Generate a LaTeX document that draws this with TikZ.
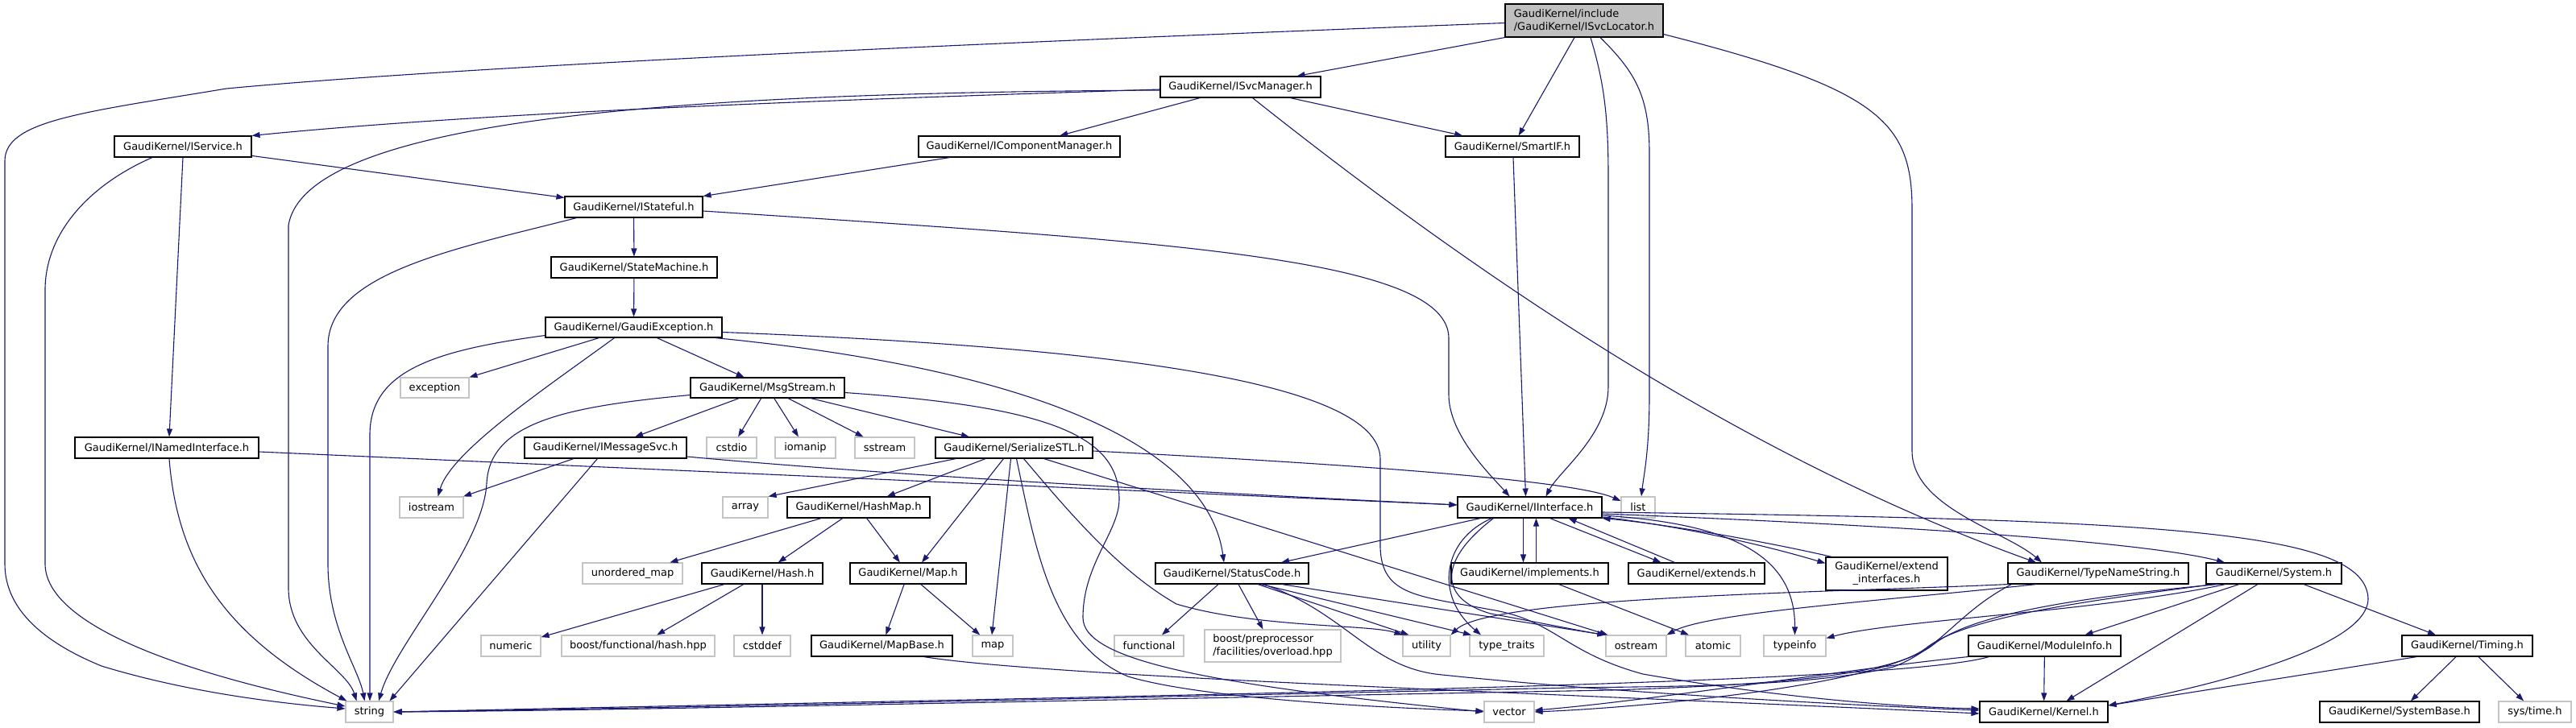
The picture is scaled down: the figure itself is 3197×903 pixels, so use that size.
\documentclass[tikz,border=0pt]{standalone}
\usepackage{fontspec}
\newfontfamily\nf{DejaVu Sans}
\usetikzlibrary{arrows.meta}
\definecolor{edgec}{HTML}{191970}
\definecolor{sysb}{HTML}{C4C4C4}
\definecolor{mainf}{HTML}{BFBFBF}
\begin{document}
\begin{tikzpicture}[x=1pt,y=-1pt,
 box/.style={draw=black,line width=1.1pt,fill=white,minimum height=26pt,inner sep=0pt,font=\nf\fontsize{13}{16}\selectfont},
 sys/.style={box,draw=sysb},
 e/.style={draw=edgec,line width=1.1pt,-{Triangle[length=10pt,width=7pt]}}]
\useasboundingbox (0,0) rectangle (3197,903);
% nodes
\node[box,fill=mainf,minimum width=196pt,minimum height=41pt,align=left] (SL) at (1966,25.5) {GaudiKernel/include\\/GaudiKernel/ISvcLocator.h};
\node[box,minimum width=199pt] (SM) at (1539.5,108) {GaudiKernel/ISvcManager.h};
\node[box,minimum width=170pt] (ISvc) at (227,182) {GaudiKernel/IService.h};
\node[box,minimum width=250pt] (ICM) at (1265,182) {GaudiKernel/IComponentManager.h};
\node[box,minimum width=166pt] (SIF) at (1877,182) {GaudiKernel/SmartIF.h};
\node[box,minimum width=171pt] (IST) at (786.5,257) {GaudiKernel/IStateful.h};
\node[box,minimum width=206pt] (STM) at (787,332) {GaudiKernel/StateMachine.h};
\node[box,minimum width=219pt,minimum height=25pt] (GE) at (786.5,406.5) {GaudiKernel/GaudiException.h};
\node[sys,minimum width=85pt,minimum height=25pt] (exc) at (539.5,481.5) {exception};
\node[box,minimum width=191pt,minimum height=25pt] (MS) at (952.5,481.5) {GaudiKernel/MsgStream.h};
\node[box,minimum width=228pt] (INI) at (207,556) {GaudiKernel/INamedInterface.h};
\node[box,minimum width=201pt] (IMS) at (751.5,556) {GaudiKernel/IMessageSvc.h};
\node[sys,minimum width=62pt] (cstdio) at (908,556) {cstdio};
\node[sys,minimum width=75pt] (iomanip) at (999.5,556) {iomanip};
\node[sys,minimum width=74pt] (sstream) at (1098,556) {sstream};
\node[box,minimum width=195pt] (SS) at (1258.5,556) {GaudiKernel/SerializeSTL.h};
\node[sys,minimum width=79pt] (iostream) at (535.5,630) {iostream};
\node[sys,minimum width=56pt] (array) at (925,630) {array};
\node[box,minimum width=177pt] (HM) at (1065.5,630) {GaudiKernel/HashMap.h};
\node[box,minimum width=179pt] (IF) at (1898.5,630) {GaudiKernel/IInterface.h};
\node[sys,minimum width=42pt] (list) at (2033,630) {list};
\node[sys,minimum width=124pt] (umap) at (785,712) {unordered\_map};
\node[box,minimum width=150pt] (Hash) at (946,712) {GaudiKernel/Hash.h};
\node[box,minimum width=144pt] (Map) at (1127,712) {GaudiKernel/Map.h};
\node[box,minimum width=190pt] (SC) at (1529,712) {GaudiKernel/StatusCode.h};
\node[box,minimum width=195pt] (impl) at (1898.5,712) {GaudiKernel/implements.h};
\node[box,minimum width=169pt] (ext) at (2105.5,712) {GaudiKernel/extends.h};
\node[box,minimum width=151pt,minimum height=41pt,align=center] (extif) at (2341.5,712.5) {GaudiKernel/extend\\\_interfaces.h};
\node[box,minimum width=224pt] (TNS) at (2604,712) {GaudiKernel/TypeNameString.h};
\node[box,minimum width=168pt] (Sys) at (2822,712) {GaudiKernel/System.h};
\node[sys,minimum width=74pt] (numeric) at (634,802) {numeric};
\node[sys,minimum width=190pt] (bhash) at (792,802) {boost/functional/hash.hpp};
\node[sys,minimum width=70pt] (cstddef) at (946,802) {cstddef};
\node[box,minimum width=175pt] (MB) at (1094.5,802) {GaudiKernel/MapBase.h};
\node[sys,minimum width=50pt] (map) at (1232,802) {map};
\node[sys,minimum width=86pt] (functional) at (1426,802) {functional};
\node[sys,minimum width=169pt,minimum height=40pt,align=left] (bpp) at (1579.5,802) {boost/preprocessor\\/facilities/overload.hpp};
\node[sys,minimum width=59pt] (utility) at (1770.5,802) {utility};
\node[sys,minimum width=92pt] (tt) at (1870,802) {type\_traits};
\node[sys,minimum width=75pt] (ostream) at (2030.5,802) {ostream};
\node[sys,minimum width=68pt] (atomic) at (2126,802) {atomic};
\node[sys,minimum width=77pt] (typeinfo) at (2227.5,802) {typeinfo};
\node[box,minimum width=189pt] (MI) at (2537.5,802) {GaudiKernel/ModuleInfo.h};
\node[box,minimum width=162pt] (Tim) at (3062,802) {GaudiKernel/Timing.h};
\node[sys,minimum width=59pt] (string) at (458.5,884) {string};
\node[sys,minimum width=62pt] (vector) at (1873,884) {vector};
\node[box,minimum width=159pt] (Ker) at (2536.5,884) {GaudiKernel/Kernel.h};
\node[box,minimum width=198pt] (SB) at (2978,884) {GaudiKernel/SystemBase.h};
\node[sys,minimum width=90pt] (systime) at (3146,884) {sys/time.h};
% edges from ISvcLocator
\draw[e] ([yshift=-3pt]SL.west) .. controls (1300,50) and (600,80) .. (281,110) .. controls (100,140) and (6,150) .. (6,200) -- (6,700) .. controls (6,760) and (60,800) .. (126,827) .. controls (250,865) and (380,876) .. ([yshift=4pt]string.west);
\draw[e] (SL.south west) -- ([xshift=70pt]SM.north);
\draw[e] (SL) -- (SIF);
\draw[e] ([xshift=8pt]SL.south) .. controls (1990,100) and (1996,140) .. (1996,220) -- (1996,480) .. controls (1996,540) and (1935,585) .. ([xshift=20pt]IF.north);
\draw[e] ([xshift=20pt]SL.south) .. controls (2030,90) and (2047,120) .. (2047,190) -- (2047,490) .. controls (2047,560) and (2040,590) .. ([xshift=4pt]list.north);
\draw[e] ([yshift=-17pt]SL.east) .. controls (2330,110) and (2373,150) .. (2373,260) -- (2373,560) .. controls (2373,630) and (2490,660) .. ([xshift=-70pt]TNS.north);
% ISvcManager
\draw[e] ([yshift=-3pt]SM.west) .. controls (1000,125) and (600,140) .. (ISvc.north east);
\draw[e] ([yshift=-4pt]SM.west) .. controls (900,115) and (380,140) .. (358,280) -- (358,730) .. controls (358,800) and (430,830) .. ([xshift=-16pt]string.north);
\draw[e] (SM) -- (ICM);
\draw[e] (SM) -- (SIF);
\draw[e] ([xshift=15pt]SM.south) .. controls (1848,355) and (2173,571) .. ([xshift=-77pt]TNS.north);
% IService
\draw[e] (ISvc) -- (IST);
\draw[e] (ISvc.south) -- ([xshift=3pt]INI.north);
\draw[e] ([xshift=-38pt]ISvc.south) .. controls (110,230) and (56,290) .. (56,360) -- (56,700) .. controls (56,770) and (200,830) .. ([yshift=7pt]string.west);
% others upper
\draw[e] (ICM) -- (IST);
\draw[e] ([xshift=1pt]SIF.south) -- ([xshift=-5pt]IF.north);
\draw[e] (IST) -- (STM);
\draw[e] ([xshift=-71pt]IST.south) .. controls (560,310) and (407,340) .. (407,430) -- (407,700) .. controls (407,780) and (445,830) .. ([xshift=-6pt]string.north);
\draw[e] ([yshift=-5pt]IST.east) .. controls (1450,300) and (1798,320) .. (1798,420) -- (1798,490) .. controls (1798,540) and (1850,590) .. ([xshift=-25pt]IF.north);
\draw[e] (STM) -- (GE);
% GaudiException
\draw[e] ([yshift=-10pt]GE.west) .. controls (540,435) and (459,460) .. (459,540) -- ([xshift=0.5pt]string.north);
\draw[e] (GE) -- (exc);
\draw[e] ([xshift=-24pt]GE.south) .. controls (680,480) and (560,560) .. ([xshift=8pt]iostream.north);
\draw[e] (GE) -- (MS);
\draw[e] ([xshift=-9pt]GE.south east) .. controls (1300,460) and (1500,560) .. ([xshift=-10pt]SC.north);
\draw[e] ([yshift=-6pt]GE.east) .. controls (1350,430) and (1713,470) .. (1713,570) -- (1713,680) .. controls (1715,740) and (1760,740) .. (1850,757) .. controls (1930,770) and (1940,810) .. (2039,837) .. controls (2200,865) and (2350,878) .. ([yshift=4pt]Ker.west);
% INamedInterface
\draw[e] ([yshift=-5pt]INI.east) -- ([yshift=3pt]IF.west);
\draw[e] ([xshift=3pt]INI.south) .. controls (220,700) and (280,790) .. ([xshift=2pt]string.north west);
% MsgStream
\draw[e] (MS) -- (IMS);
\draw[e] (MS) -- (cstdio);
\draw[e] (MS) -- (iomanip);
\draw[e] (MS) -- (sstream);
\draw[e] (MS) -- (SS);
\draw[e] ([yshift=-9pt]MS.west) .. controls (700,505) and (608,525) .. (604,600) .. controls (600,680) and (490,800) .. ([xshift=11.5pt]string.north);
\draw[e] ([yshift=-6pt]MS.east) .. controls (1300,505) and (1389,540) .. (1389,620) .. controls (1389,660) and (1344,700) .. (1344,767) .. controls (1344,820) and (1500,850) .. (vector.west);
% IMessageSvc
\draw[e] (IMS) -- (iostream);
\draw[e] ([xshift=-10pt]IMS.south) -- ([xshift=25pt]string.north);
\draw[e] ([yshift=-11pt]IMS.east) .. controls (1100,590) and (1500,612) .. ([yshift=3pt]IF.west);
% SerializeSTL
\draw[e] ([yshift=-4pt]SS.east) .. controls (1650,575) and (1950,595) .. ([yshift=8pt]list.west);
\draw[e] ([xshift=-72pt]SS.south) -- (array.north east);
\draw[e] (SS) -- (HM);
\draw[e] ([xshift=-13pt]SS.south) -- ([xshift=17pt]Map.north);
\draw[e] ([xshift=-4pt]SS.south) -- ([xshift=-1pt]map.north);
\draw[e] ([xshift=3pt]SS.south) .. controls (1285,680) and (1305,800) .. (1400,840) .. controls (1500,870) and (1750,880) .. ([yshift=1pt]vector.west);
\draw[e] ([xshift=12pt]SS.south) .. controls (1330,640) and (1390,710) .. (1460,750) .. controls (1560,780) and (1700,775) .. (utility.north west);
\draw[e] ([xshift=37pt]SS.south) -- ([xshift=3pt]ostream.north west);
% HashMap, Hash, Map
\draw[e] (HM) -- (umap);
\draw[e] (HM) -- (Hash);
\draw[e] (HM) -- (Map);
\draw[e] (Hash) -- (numeric);
\draw[e] (Hash) -- (bhash);
\draw[e] (Hash) -- (cstddef);
\draw[e] (Map) -- (MB);
\draw[e] (Map) -- (map);
\draw[e] ([xshift=52pt]MB.south) .. controls (1300,840) and (1900,860) .. ([yshift=-2pt]Ker.west);
% IInterface
\draw[e] (IF) -- (SC);
\draw[e] ([xshift=-47pt]IF.south) .. controls (1790,670) and (1780,740) .. ([xshift=-32pt]tt.north);
\draw[e] ([xshift=-45pt]IF.south) .. controls (1780,700) and (1790,745) .. (1850,762) .. controls (1920,775) and (1970,785) .. (ostream.north west);
\draw[e] ([xshift=-8pt]IF.south) -- ([xshift=-8pt]impl.north);
\draw[e] ([xshift=8pt]impl.north) -- ([xshift=8pt]IF.south);
\draw[e] ([xshift=25pt]IF.south) -- ([xshift=-44pt]ext.north);
\draw[e] ([xshift=-27pt]ext.north) -- ([xshift=48pt]IF.south);
\draw[e] ([yshift=-12pt]IF.east) .. controls (2100,655) and (2200,680) .. ([yshift=-8pt]extif.north west);
\draw[e] ([xshift=8pt]extif.north west) .. controls (2180,670) and (2060,650) .. (IF.south east);
\draw[e] ([yshift=-10pt]IF.east) .. controls (2150,650) and (2228,690) .. (typeinfo.north);
\draw[e] ([yshift=-8pt]IF.east) .. controls (2300,650) and (2650,670) .. ([xshift=-61pt]Sys.north);
\draw[e] ([yshift=-6pt]IF.east) .. controls (2700,645) and (2935,660) .. (2939,743) .. controls (2940,810) and (2700,860) .. ([yshift=8pt]Ker.east);
\draw[e] ([xshift=36pt]impl.south) -- ([xshift=-30pt]atomic.north);
% StatusCode
\draw[e] ([xshift=-17pt]SC.south) -- ([xshift=16pt]functional.north);
\draw[e] ([xshift=8pt]SC.south) -- ([xshift=-12pt]bpp.north);
\draw[e] ([xshift=32pt]SC.south) -- ([xshift=-22pt]utility.north);
\draw[e] ([xshift=36pt]SC.south) -- ([xshift=-44pt]tt.north);
\draw[e] ([xshift=62pt]SC.south) -- (ostream.north west);
\draw[e] ([xshift=39pt]SC.south) .. controls (1670,760) and (1700,830) .. (1790,838) .. controls (2000,860) and (2300,876) .. ([yshift=2pt]Ker.west);
% TypeNameString
\draw[e] ([xshift=-77pt]TNS.south) .. controls (2350,745) and (2120,760) .. (ostream.north east);
\draw[e] (TNS.south west) .. controls (2300,735) and (1850,740) .. (utility.north east);
\draw[e] ([xshift=5pt]TNS.south west) .. controls (2430,760) and (2410,805) .. (2350,828) .. controls (2250,852) and (2100,852) .. (1950,854) .. controls (1400,866) and (800,880) .. (string.east);
% System
\draw[e] ([xshift=-60pt]Sys.south) .. controls (2600,760) and (2350,770) .. ([yshift=-4pt]typeinfo.north east);
\draw[e] ([xshift=-43pt]Sys.south) -- ([xshift=50pt]MI.north);
\draw[e] ([xshift=-20pt]Sys.south) -- ([xshift=28pt]Ker.north);
\draw[e] ([xshift=37pt]Sys.south) -- ([xshift=-39pt]Tim.north);
\draw[e] ([xshift=-70pt]Sys.south) .. controls (2600,740) and (2450,760) .. (2400,800) .. controls (2350,840) and (2200,850) .. (2000,857) .. controls (1400,868) and (800,882) .. (string.east);
\draw[e] ([xshift=-75pt]Sys.south) .. controls (2600,745) and (2440,765) .. (2390,805) .. controls (2330,850) and (2050,878) .. (vector.east);
% ModuleInfo
\draw[e] (MI) -- (Ker);
\draw[e] (MI.south west) .. controls (2300,830) and (2050,870) .. ([yshift=2pt]vector.east);
\draw[e] ([xshift=26pt]MI.south west) .. controls (2350,850) and (1500,862) .. (string.east);
% Timing
\draw[e] ([xshift=19pt]Tim.south west) -- ([yshift=8pt]Ker.east);
\draw[e] (Tim) -- (SB);
\draw[e] (Tim) -- (systime);
\end{tikzpicture}
\end{document}
